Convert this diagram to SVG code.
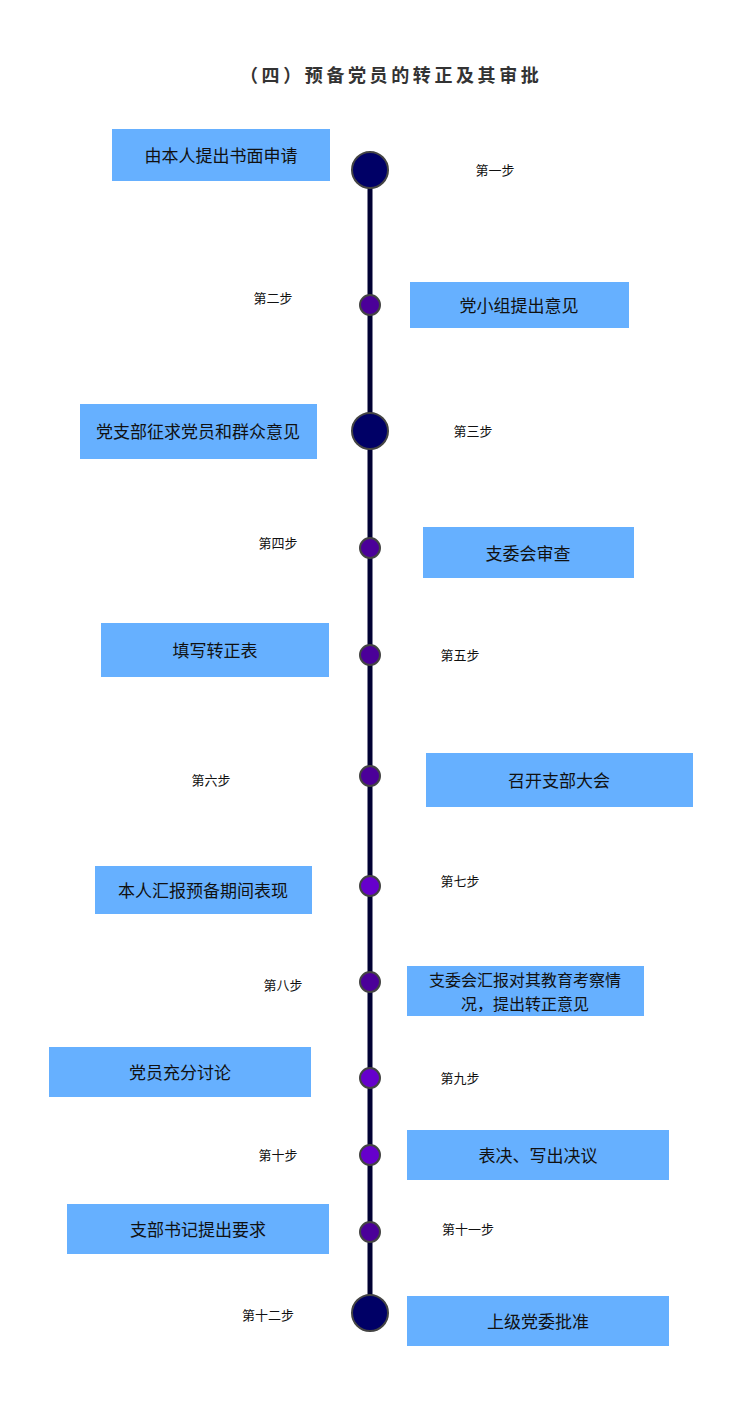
<svg xmlns="http://www.w3.org/2000/svg" width="756" height="1409" viewBox="0 0 756 1409">
<style>
.box{fill:#66b0ff}
.bt{font-family:"Noto Sans CJK SC","Liberation Sans",sans-serif;font-size:17px;fill:#111;text-anchor:middle;dominant-baseline:central}
.bt2{font-family:"Noto Sans CJK SC","Liberation Sans",sans-serif;font-size:16px;fill:#111;text-anchor:middle;dominant-baseline:central}
.lb{font-family:"Noto Sans CJK SC","Liberation Sans",sans-serif;font-size:13px;fill:#111;text-anchor:middle;dominant-baseline:central}
.big{fill:#000066;stroke:#444;stroke-width:2}
.dA{fill:#4b0099;stroke:#444;stroke-width:2}
.dB{fill:#6600cc;stroke:#444;stroke-width:2}
.title{font-family:"Noto Sans CJK SC","Liberation Sans",sans-serif;font-size:18px;font-weight:bold;fill:#333;letter-spacing:3.6px}
</style>
<rect width="756" height="1409" fill="#fff"/>
<text class="title" x="240" y="82">（四）预备党员的转正及其审批</text>
<g id="connectors">
<line x1="370" y1="170" x2="370" y2="1313" stroke="#000033" stroke-width="5"/>
</g>
<g id="n1"><rect class="box" x="112" y="129" width="218" height="52"/><text class="bt" x="221" y="154">由本人提出书面申请</text><circle class="big" cx="370" cy="170" r="18"/><text class="lb" x="495" y="169">第一步</text></g>
<g id="n2"><text class="lb" x="273" y="297">第二步</text><circle class="dA" cx="370" cy="305" r="10"/><rect class="box" x="410" y="282" width="219" height="46"/><text class="bt" x="519" y="304">党小组提出意见</text></g>
<g id="n3"><rect class="box" x="80" y="404" width="237" height="55"/><text class="bt" x="198" y="430">党支部征求党员和群众意见</text><circle class="big" cx="370" cy="431" r="18"/><text class="lb" x="473" y="430">第三步</text></g>
<g id="n4"><text class="lb" x="278" y="542">第四步</text><circle class="dA" cx="370" cy="548" r="10"/><rect class="box" x="423" y="527" width="211" height="51"/><text class="bt" x="528" y="552">支委会审查</text></g>
<g id="n5"><rect class="box" x="101" y="623" width="228" height="54"/><text class="bt" x="215" y="649">填写转正表</text><circle class="dA" cx="370" cy="655" r="10"/><text class="lb" x="460" y="654">第五步</text></g>
<g id="n6"><text class="lb" x="211" y="779">第六步</text><circle class="dA" cx="370" cy="776" r="10"/><rect class="box" x="426" y="753" width="267" height="54"/><text class="bt" x="559" y="779">召开支部大会</text></g>
<g id="n7"><rect class="box" x="95" y="866" width="217" height="48"/><text class="bt" x="203" y="889">本人汇报预备期间表现</text><circle class="dB" cx="370" cy="886" r="10"/><text class="lb" x="460" y="880">第七步</text></g>
<g id="n8"><text class="lb" x="283" y="984">第八步</text><circle class="dA" cx="370" cy="982" r="10"/><rect class="box" x="407" y="966" width="237" height="50"/><text class="bt2" x="525" y="979">支委会汇报对其教育考察情</text><text class="bt2" x="525" y="1003">况，提出转正意见</text></g>
<g id="n9"><rect class="box" x="49" y="1047" width="262" height="50"/><text class="bt" x="180" y="1071">党员充分讨论</text><circle class="dB" cx="370" cy="1078" r="10"/><text class="lb" x="460" y="1077">第九步</text></g>
<g id="n10"><text class="lb" x="278" y="1154">第十步</text><circle class="dB" cx="370" cy="1155" r="10"/><rect class="box" x="407" y="1130" width="262" height="50"/><text class="bt" x="538" y="1154">表决、写出决议</text></g>
<g id="n11"><rect class="box" x="67" y="1204" width="262" height="50"/><text class="bt" x="198" y="1228">支部书记提出要求</text><circle class="dA" cx="370" cy="1232" r="10"/><text class="lb" x="468" y="1228">第十一步</text></g>
<g id="n12"><text class="lb" x="268" y="1314">第十二步</text><circle class="big" cx="370" cy="1313" r="18"/><rect class="box" x="407" y="1296" width="262" height="50"/><text class="bt" x="538" y="1320">上级党委批准</text></g>
</svg>
